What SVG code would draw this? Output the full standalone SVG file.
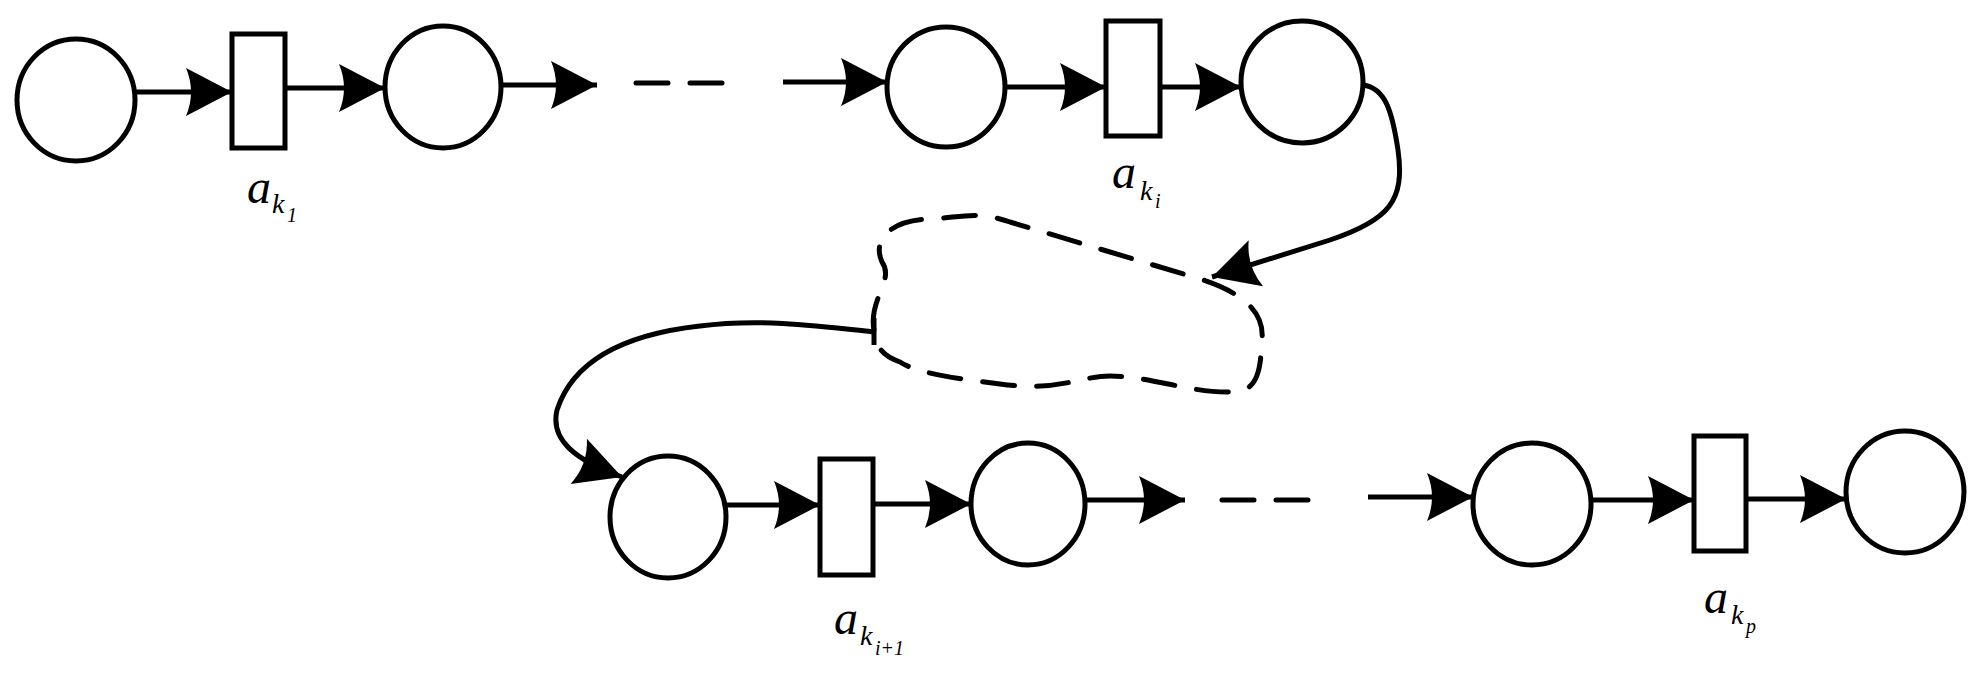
<svg xmlns="http://www.w3.org/2000/svg" width="1979" height="682" viewBox="0 0 1979 682">
<style>
.n{fill:#fff;stroke:#000;stroke-width:5}
.c{fill:none;stroke:#000;stroke-width:5}
.d{fill:none;stroke:#000;stroke-width:5;stroke-dasharray:32 22;stroke-linecap:round}
.t{font-family:"Liberation Serif",serif;font-style:italic;fill:#000}
.a{font-size:48px}.s{font-size:28px}.ss{font-size:20px}
</style>
<defs>
<marker id="ar" markerUnits="userSpaceOnUse" markerWidth="60" markerHeight="60" viewBox="-50 -30 60 60" refX="0" refY="0" orient="auto">
<path d="M0,0 L-46,-24 Q-36,0 -46,24 Z" fill="#000"/>
</marker>
</defs>
<g id="connectors">
<line class="c" x1="136" y1="92" x2="232" y2="92" marker-end="url(#ar)"/>
<line class="c" x1="285" y1="88" x2="385" y2="88" marker-end="url(#ar)"/>
<line class="c" x1="502" y1="85" x2="597" y2="85" marker-end="url(#ar)"/>
<line class="d" x1="636" y1="83" x2="735" y2="83" stroke-dasharray="4 8"/>
<line class="c" x1="783" y1="82" x2="887" y2="82" marker-end="url(#ar)"/>
<line class="c" x1="1006" y1="87" x2="1106" y2="87" marker-end="url(#ar)"/>
<line class="c" x1="1160" y1="87" x2="1241" y2="87" marker-end="url(#ar)"/>
<path class="c" d="M1363,85 C1385,88 1392,110 1398,150 C1405,200 1390,220 1330,240 L1212,277" marker-end="url(#ar)"/>
<path class="d" d="M874,330 C868,300 895,280 882,262 C872,240 890,220 930,219 C960,218 975,210 1010,222 L1190,276 C1240,290 1265,310 1262,340 C1260,370 1260,392 1230,392 C1190,393 1150,376 1110,376 C1080,376 1060,392 1000,384 C950,378 915,372 900,362 C880,355 876,345 874,330"/>
<line class="c" x1="874" y1="318" x2="874" y2="345"/>
<path class="c" d="M874,332 C820,326 760,318 700,326 C610,336 570,370 557,410 C550,440 575,460 622,477" marker-end="url(#ar)"/>
<line class="c" x1="726" y1="505" x2="820" y2="505" marker-end="url(#ar)"/>
<line class="c" x1="873" y1="504" x2="971" y2="504" marker-end="url(#ar)"/>
<line class="c" x1="1085" y1="500" x2="1185" y2="500" marker-end="url(#ar)"/>
<line class="d" x1="1222" y1="500" x2="1322" y2="500" stroke-dasharray="4 8"/>
<line class="c" x1="1368" y1="497" x2="1473" y2="497" marker-end="url(#ar)"/>
<line class="c" x1="1592" y1="500" x2="1694" y2="500" marker-end="url(#ar)"/>
<line class="c" x1="1746" y1="499" x2="1846" y2="499" marker-end="url(#ar)"/>
</g>
<g id="p1"><ellipse class="n" cx="76" cy="100" rx="59" ry="61"/></g>
<g id="t1"><rect class="n" x="232" y="34" width="53" height="114"/><text class="t a" x="247" y="203">a</text><text class="t s" x="272" y="213">k</text><text class="t ss" x="287" y="222" font-style="normal">1</text></g>
<g id="p2"><ellipse class="n" cx="443" cy="87" rx="58" ry="61"/></g>
<g id="p3"><ellipse class="n" cx="946" cy="87" rx="59" ry="60"/></g>
<g id="t2"><rect class="n" x="1106" y="21" width="54" height="115"/><text class="t a" x="1112" y="188">a</text><text class="t s" x="1140" y="200">k</text><text class="t ss" x="1155" y="208">i</text></g>
<g id="p4"><ellipse class="n" cx="1302" cy="82" rx="61" ry="61"/></g>
<g id="p5"><ellipse class="n" cx="668" cy="517" rx="58" ry="61"/></g>
<g id="t3"><rect class="n" x="820" y="459" width="53" height="116"/><text class="t a" x="834" y="634">a</text><text class="t s" x="860" y="645">k</text><text class="t ss" x="875" y="655">i+1</text></g>
<g id="p6"><ellipse class="n" cx="1028" cy="504" rx="57" ry="61"/></g>
<g id="p7"><ellipse class="n" cx="1532" cy="504" rx="59" ry="61"/></g>
<g id="t4"><rect class="n" x="1694" y="436" width="52" height="115"/><text class="t a" x="1704" y="613">a</text><text class="t s" x="1731" y="624">k</text><text class="t ss" x="1746" y="633">p</text></g>
<g id="p8"><ellipse class="n" cx="1905" cy="492" rx="59" ry="61"/></g>
</svg>
